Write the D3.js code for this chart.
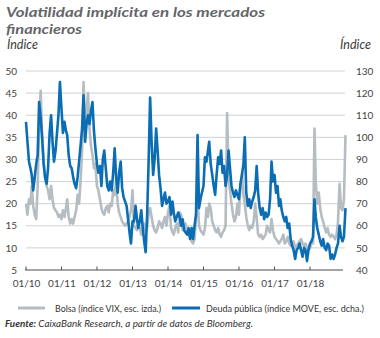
<!DOCTYPE html>
<html><head><meta charset="utf-8">
<script src="https://cdn.jsdelivr.net/npm/d3@7"></script>
<style>
html,body{margin:0;padding:0;background:#fff;}
svg{display:block;}
text{font-family:Lato,"Open Sans",sans-serif;}
</style></head>
<body>
<svg id="c" width="380" height="338"></svg>
<script>
// ---- data (half-month observations, Jan 2010 - Dec 2018) ----
const startYear = 2010;
const vix = [ // Bolsa (índice VIX), left scale
 20,17.5,21,20,24,19.5,17.5,16.5,24,38,45.5,35,30,26,24,23,21,24,21,19,18.5,18,17,17.5,
 16.5,18.5,17,19,21,17,15.5,16.5,15.5,17,18.5,22,20,25,32,47.5,38,41,45,37,33,31,28,29,
 24,23,21,19,18,17.5,19,19.5,18,20,19.5,23,22,25,20,18,17,16,15.5,15,15.5,16,17,18.5,
 23,15,14.5,14,15.5,14.5,13,14.5,15.5,13.5,14.5,18,19,17,15,14,13.5,14.5,16,15.5,14.5,16,17,15,
 18,19.5,14.5,13.5,13,14.5,15.5,13.5,18,17.5,14,14.5,15.5,13.5,13,12.5,11.5,11,12,17,22,15,14,13.5,
 13,14.5,19,17,20,19,16,15,14,13.5,14.5,13,12.5,13.5,14,15,40.5,26,23,20,17.5,16,17,20,
 17.5,24,27,22,20,17,15,14,15,14.5,16,20,17,13,12.5,13,12,12.5,13,15,14,13.5,16.5,14,
 12.5,12,11.5,11,11.5,12,13,11,11.5,12.5,11,10.5,11,11.5,10,10.5,11,11.5,12,11,10.5,11,10,9.5,
 10,11,11,37,25,20,22.5,19,17,16,14.5,13.5,14.5,13,12.5,13,12.5,12,13,16,24.5,19,18.5,21,
 35.5
];
const move = [ // Deuda pública (índice MOVE), right scale
 107,98,89,86,83,76,82,88,92,116,109,100,88,82,79,86,102,110,98,89,94,102,110,125,
 113,102,107,103,101,92,87,86,82,79,77,82,89,96,104,119,98,106,110,106,112,116,103,95,
 88,84,87,78,90,94,86,78,76,80,76,84,95,82,75,84,89,77,73,71,69,63,57,52,
 62,62,69,63,59,62,67,59,53,48,66,90,118,98,83,90,104,94,83,77,69,72,75,70,
 71,73,65,71,66,62,64,66,64,60,63,58,57,56,59,54,59,54,60,65,101,68,72,75,
 78,91,89,94,98,88,83,78,74,83,91,88,94,84,87,78,83,94,86,78,75,73,76,74,
 72,79,83,88,100,75,69,72,68,71,73,76,87,75,68,65,68,63,66,64,65,72,89,80,
 83,75,78,69,72,67,64,62,64,59,61,54,51,49,45,49,50,52,49,46,50,49,44,49,
 52,53,55,72,64,59,56,53,51,54,50,49,52,51,45,47,45,47,50,52,60,55,53,55,
 68
];
const leftTicks = [5,10,15,20,25,30,35,40,45,50];
const rightTicks = [40,50,60,70,80,90,100,110,120,130];
const xTickYears = [2010,2011,2012,2013,2014,2015,2016,2017,2018];
const titleLines = ["Volatilidad implícita en los mercados","financieros"];
const seriesNames = ["Bolsa (índice VIX, esc. izda.)","Deuda pública (índice MOVE, esc. dcha.)"];
const colors = {vix:"#b5bdc2", move:"#0b6db4"};

const dateAt = i => new Date(startYear, Math.floor(i/2), i%2 ? 16 : 1);

const svg = d3.select("#c");
const x = d3.scaleTime().domain([new Date(2010,0,1), new Date(2019,0,1)]).range([26,345.5]);
const yL = d3.scaleLinear().domain([5,50]).range([270,71]);
const yR = d3.scaleLinear().domain([40,130]).range([270,71]);

// title
svg.append("g").selectAll("text").data(titleLines).join("text")
  .attr("x",6).attr("y",(d,i)=>17+i*16.5)
  .attr("font-size",13.8).attr("font-weight","bold").attr("font-style","italic")
  .attr("fill","#646569")
  .attr("textLength",(d,i)=> i===0 ? 259 : 76).attr("lengthAdjust","spacingAndGlyphs")
  .text(d=>d);

svg.append("text").attr("x",7).attr("y",49).attr("font-size",12.5).attr("font-style","italic")
  .attr("fill","#3a3a3a").text("Índice");
svg.append("text").attr("x",371).attr("y",49).attr("font-size",12.5).attr("font-style","italic")
  .attr("text-anchor","end").attr("fill","#3a3a3a").text("Índice");

// gridlines
svg.append("g").selectAll("line").data(leftTicks.filter(d=>d>5)).join("line")
  .attr("x1",26).attr("x2",345).attr("y1",d=>yL(d)).attr("y2",d=>yL(d))
  .attr("stroke","#cfd1d3").attr("stroke-width",1);

// left axis labels
const axL = svg.append("g").attr("transform","translate(20,0)")
  .call(d3.axisLeft(yL).tickValues(leftTicks).tickSize(0).tickPadding(3));
axL.select(".domain").remove();
axL.selectAll("text").attr("font-size",10).attr("fill","#444").attr("font-family","Lato,sans-serif");

const axR = svg.append("g").attr("transform","translate(353,0)")
  .call(d3.axisRight(yR).tickValues(rightTicks).tickSize(0).tickPadding(3));
axR.select(".domain").remove();
axR.selectAll("text").attr("font-size",10).attr("fill","#444").attr("font-family","Lato,sans-serif");

// x axis
svg.append("line").attr("x1",25).attr("x2",343).attr("y1",270).attr("y2",270)
  .attr("stroke","#4d4d4d").attr("stroke-width",1);
const axX = svg.append("g").attr("transform","translate(0,270)")
  .call(d3.axisBottom(x).tickValues(xTickYears.map(y=>new Date(y,0,1)))
    .tickFormat(d3.timeFormat("%m/%y")).tickSize(0).tickPadding(10));
axX.select(".domain").remove();
axX.selectAll("text").attr("font-size",10).attr("fill","#444").attr("font-family","Lato,sans-serif");
svg.append("g").selectAll("line").data(xTickYears).join("line")
  .attr("x1",d=>x(new Date(d,0,1))).attr("x2",d=>x(new Date(d,0,1)))
  .attr("y1",266.5).attr("y2",270).attr("stroke","#4d4d4d");

// lines
const lineV = d3.line().x((d,i)=>x(dateAt(i))).y(d=>yL(d));
const lineM = d3.line().x((d,i)=>x(dateAt(i))).y(d=>yR(d));
svg.append("path").attr("d",lineV(vix)).attr("fill","none").attr("stroke",colors.vix)
  .attr("stroke-width",2.6).attr("stroke-linejoin","round");
svg.append("path").attr("d",lineM(move)).attr("fill","none").attr("stroke",colors.move)
  .attr("stroke-width",2.6).attr("stroke-linejoin","round");

// legend
const lg = svg.append("g");
lg.append("line").attr("x1",18).attr("x2",45).attr("y1",308).attr("y2",308).attr("stroke",colors.vix).attr("stroke-width",3);
lg.append("text").attr("x",55).attr("y",311.5).attr("font-size",9.5).attr("fill","#333")
  .attr("textLength",106).attr("lengthAdjust","spacingAndGlyphs").text(seriesNames[0]);
lg.append("line").attr("x1",172).attr("x2",200).attr("y1",308).attr("y2",308).attr("stroke",colors.move).attr("stroke-width",3);
lg.append("text").attr("x",206).attr("y",311.5).attr("font-size",9.5).attr("fill","#333")
  .attr("textLength",158).attr("lengthAdjust","spacingAndGlyphs").text(seriesNames[1]);

// source
const src = svg.append("text").attr("x",5).attr("y",326.5).attr("font-size",9.5).attr("fill","#333")
  .attr("font-style","italic").attr("textLength",248).attr("lengthAdjust","spacingAndGlyphs");
src.append("tspan").attr("font-weight","bold").text("Fuente:");
src.append("tspan").text(" CaixaBank Research, a partir de datos de Bloomberg.");
</script>
</body></html>
